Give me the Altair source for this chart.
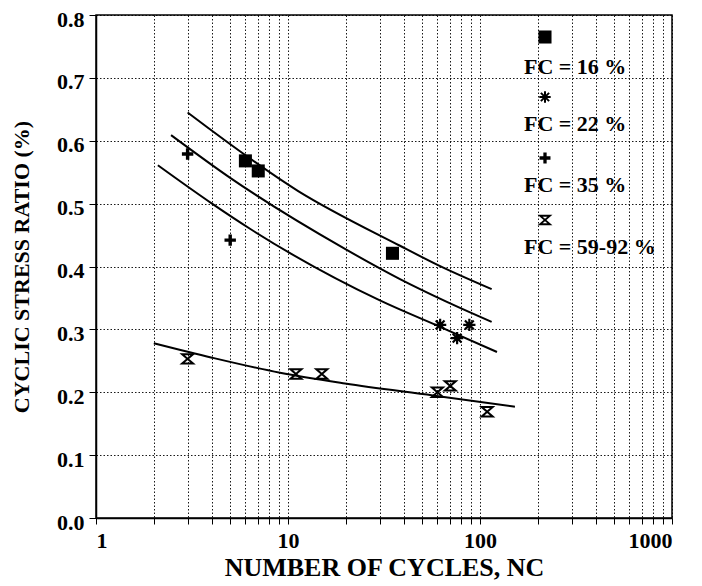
import altair as alt
import pandas as pd

# ---------------- data ----------------
fc16_n = [6, 7, 35]
fc16_csr = [0.568, 0.552, 0.421]

fc22_n = [62, 76, 88]
fc22_csr = [0.307, 0.286, 0.307]

fc35_n = [3, 5]
fc35_csr = [0.579, 0.442]

fc59_n = [3, 11, 15, 60, 70, 109]
fc59_csr = [0.253, 0.229, 0.229, 0.200, 0.210, 0.169]

# fitted curves
curve1_n = [3, 11.3, 38.3, 59.7, 115]
curve1_csr = [0.645, 0.520, 0.433, 0.403, 0.364]

curve2_n = [2.46, 5.0, 19.8, 38.3, 68.1, 115]
curve2_csr = [0.609, 0.541, 0.428, 0.380, 0.343, 0.312]

curve3_n = [2.1, 4.02, 6.34, 30.1, 61.9, 122.6]
curve3_csr = [0.561, 0.500, 0.460, 0.346, 0.304, 0.264]

curve4_n = [2, 4.02, 9.09, 19.8, 56.9, 152]
curve4_csr = [0.278, 0.255, 0.231, 0.214, 0.195, 0.177]

legend_labels = ["FC = 16 %", "FC = 22 %", "FC = 35 %", "FC = 59-92 %"]

x_ticks = [m * 10 ** e for e in range(3) for m in range(1, 10)] + [1000]
y_ticks = [0.0, 0.1, 0.2, 0.3, 0.4, 0.5, 0.6, 0.7, 0.8]

# ---------------- styling ----------------
FONT = "Liberation Serif"
SQUARE = "square"
ASTERISK = "M-1,0H1M0,-1V1M-0.72,-0.72L0.72,0.72M-0.72,0.72L0.72,-0.72"
PLUS = "M-1,-0.3H-0.3V-1H0.3V-0.3H1V0.3H0.3V1H-0.3V0.3H-1Z"
HOURGLASS = "M-1,-0.85H1L-1,0.85H1Z"

x_scale = alt.Scale(type="log", domain=[1, 1000], nice=False)
y_scale = alt.Scale(domain=[0, 0.8], nice=False, zero=False)

x_axis = alt.Axis(
    values=x_ticks,
    labelExpr="indexof([1,10,100,1000], datum.value) >= 0 ? format(datum.value, 'd') : ''",
    title="NUMBER OF CYCLES, NC",
    titleFontSize=26,
    labelPadding=6,
    titlePadding=3,
    tickSize=6,
)
y_axis = alt.Axis(
    values=y_ticks,
    format=".1f",
    title="CYCLIC STRESS RATIO (%)",
    titleFontSize=22,
    titlePadding=23,
    labelPadding=5,
    labelOffset=4,
    tickSize=7,
)


def points(n, csr, shape, size, filled, sw):
    df = pd.DataFrame({"n": n, "csr": csr})
    return alt.Chart(df).mark_point(
        shape=shape, size=size, filled=filled, color="black", strokeWidth=sw, opacity=1
    ).encode(
        x=alt.X("n:Q", scale=x_scale, axis=x_axis),
        y=alt.Y("csr:Q", scale=y_scale, axis=y_axis),
    )


def curve(n, csr):
    df = pd.DataFrame({"n": n, "csr": csr})
    return alt.Chart(df).mark_line(color="black", strokeWidth=2, interpolate="monotone").encode(
        x=alt.X("n:Q", scale=x_scale, axis=x_axis),
        y=alt.Y("csr:Q", scale=y_scale, axis=y_axis),
    )


layers = [
    curve(curve1_n, curve1_csr),
    curve(curve2_n, curve2_csr),
    curve(curve3_n, curve3_csr),
    curve(curve4_n, curve4_csr),
    points(fc16_n, fc16_csr, SQUARE, 170, True, 1),
    points(fc22_n, fc22_csr, ASTERISK, 150, False, 2.2),
    points(fc35_n, fc35_csr, PLUS, 130, True, 1),
    points(fc59_n, fc59_csr, HOURGLASS, 120, False, 2),
]

# ---------------- in-plot legend (marker above label) ----------------
legend_shapes = [(SQUARE, 170, True, 1), (ASTERISK, 130, False, 2), (PLUS, 120, True, 1), (HOURGLASS, 100, False, 1.8)]
legend_marker_y = [22, 82, 143, 205]
legend_text_y = [52, 109, 170, 232]
one = pd.DataFrame({"k": [0]})
for lab, (shape, size, filled, sw), my, ty in zip(legend_labels, legend_shapes, legend_marker_y, legend_text_y):
    layers.append(
        alt.Chart(one).mark_point(shape=shape, size=size, filled=filled, color="black",
                                  strokeWidth=sw, opacity=1).encode(
            x=alt.value(449), y=alt.value(my)
        )
    )
    layers.append(
        alt.Chart(pd.DataFrame({"label": [lab]})).mark_text(
            font=FONT, fontSize=22, fontWeight="bold", align="left", baseline="middle", color="black"
        ).encode(x=alt.value(428), y=alt.value(ty), text="label:N")
    )

chart = alt.layer(*layers).properties(
    width=576,
    height=503,
    autosize=alt.AutoSizeParams(type="none"),
    padding={"left": 88, "top": 7, "right": 22, "bottom": 62},
    background="white",
).configure_view(
    stroke="black", strokeWidth=1.5
).configure_axis(
    labelFont=FONT,
    labelFontSize=22,
    labelFontWeight="bold",
    labelColor="black",
    titleFont=FONT,
    titleFontWeight="bold",
    titleColor="black",
    domainColor="black",
    domainWidth=1.5,
    tickColor="black",
    grid=True,
    gridColor="black",
    gridDash=[1.5, 2],
    gridWidth=1,
    gridOpacity=0.9,
)

chart.save("out.html", embed_options={"renderer": "svg", "actions": False})
